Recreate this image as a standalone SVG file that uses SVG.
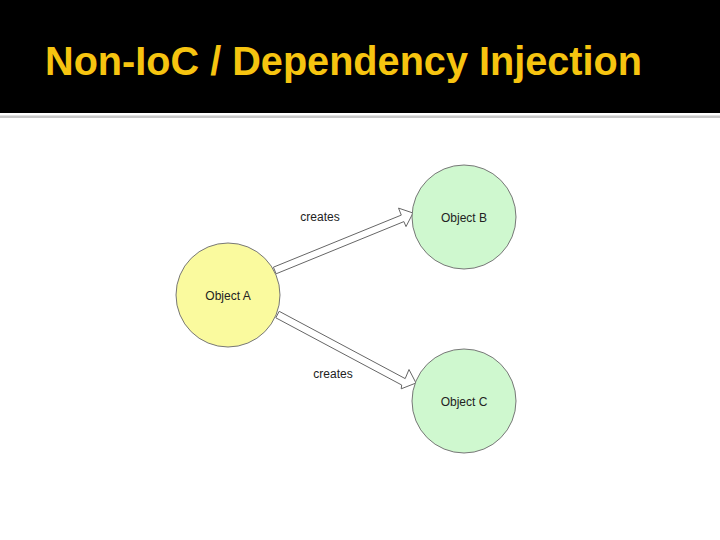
<svg xmlns="http://www.w3.org/2000/svg" width="720" height="540" viewBox="0 0 720 540">
<style>
.title{font-family:"Liberation Sans",Arial,sans-serif;font-weight:bold;font-size:41px;fill:#F6C410}
.lbl{font-family:"Liberation Sans",Arial,sans-serif;font-size:12px;fill:#222}
.a{fill:#FAFA9E;stroke:#777;stroke-width:1}
.g{fill:#CFF8CF;stroke:#777;stroke-width:1}
.arr{fill:#fff;stroke:#666;stroke-width:1;stroke-linejoin:miter}
</style>
<rect x="0" y="0" width="720" height="540" fill="#fff"/>
<rect x="0" y="0" width="720" height="113" fill="#000"/>
<rect x="0" y="115.5" width="720" height="2.5" fill="#C8C8C8"/>
<text class="title" x="45" y="75" textLength="597" lengthAdjust="spacingAndGlyphs">Non-IoC / Dependency Injection</text>
<g id="connectors">
<polygon class="arr" points="273.4,267.2 401.3,215.1 398.5,208.1 413,213 406.0,226.6 403.9,221.6 276.1,273.8"/>
<polygon class="arr" points="279.2,311.3 405.2,378.6 409.0,369.5 416,383 401.2,388.8 401.7,385.0 275.8,317.8"/>
<text class="lbl" x="320" y="221" text-anchor="middle">creates</text>
<text class="lbl" x="333" y="378" text-anchor="middle">creates</text>
</g>
<g id="objA">
<circle class="a" cx="228" cy="295" r="52"/>
<text class="lbl" x="228" y="299.5" text-anchor="middle">Object A</text>
</g>
<g id="objB">
<circle class="g" cx="464" cy="217" r="52"/>
<text class="lbl" x="464" y="221.5" text-anchor="middle">Object B</text>
</g>
<g id="objC">
<circle class="g" cx="464" cy="401" r="52"/>
<text class="lbl" x="464" y="405.5" text-anchor="middle">Object C</text>
</g>
</svg>
